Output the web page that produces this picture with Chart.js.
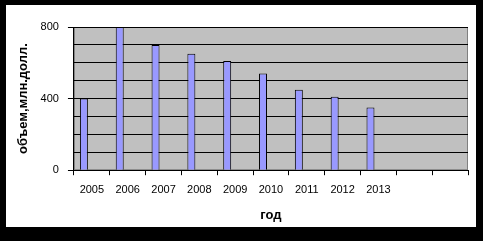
<!DOCTYPE html>
<html>
<head>
<meta charset="utf-8">
<script src="https://cdn.jsdelivr.net/npm/chart.js@4"></script>
<style>
  html, body { margin: 0; padding: 0; background: #000; }
  body { width: 483px; height: 241px; position: relative; overflow: hidden; }
  #box { position: absolute; left: 6px; top: 5px; width: 470px; height: 222px; background: #fff; }
</style>
</head>
<body>
<div id="box"><canvas id="chart" width="470" height="222"></canvas></div>
<script>
// data
const years = ["2005", "2006", "2007", "2008", "2009", "2010", "2011", "2012", "2013", "", ""];
const volume = [400, 800, 700, 650, 610, 540, 450, 410, 350, null, null];
const emptySeries = [null, null, null, null, null, null, null, null, null, null, null];
const yTicks = [0, 400, 800];

const FONT = "'Liberation Sans', Arial, sans-serif";

// grey plot area like the excel original
const plotBg = {
  id: "plotBg",
  beforeDraw(chart) {
    const { ctx, chartArea: a } = chart;
    ctx.save();
    ctx.fillStyle = "#c0c0c0";
    ctx.fillRect(a.left, a.top, a.right - a.left, a.bottom - a.top);
    ctx.strokeStyle = "#808080";
    ctx.lineWidth = 1;
    ctx.strokeRect(a.left + 0.5, a.top + 0.5, a.right - a.left - 1, a.bottom - a.top - 1);
    ctx.restore();
  }
};

const barStyle = { backgroundColor: "#9999ff", borderColor: "#000", borderWidth: 1 };

new Chart(document.getElementById("chart"), {
  type: "bar",
  data: {
    labels: years,
    datasets: [
      { label: "объем", data: volume, ...barStyle },
      { label: "s2", data: emptySeries, ...barStyle },
      { label: "s3", data: emptySeries, ...barStyle }
    ]
  },
  options: {
    responsive: false,
    animation: false,
    events: [],
    categoryPercentage: 0.667,
    barPercentage: 1.0,
    layout: { padding: { left: 5, right: 8, top: 22, bottom: 0 } },
    plugins: { legend: { display: false }, tooltip: { enabled: false } },
    scales: {
      x: {
        offset: true,
        grid: { offset: true, drawOnChartArea: false, color: "#000", tickLength: 5 },
        border: { color: "#000" },
        ticks: { color: "#000", font: { family: FONT, size: 11 }, maxRotation: 0, autoSkip: false, padding: 8 },
        title: { display: true, text: "год", color: "#000", font: { family: FONT, size: 13, weight: "bold" }, padding: { top: 3 } }
      },
      y: {
        min: 0,
        max: 800,
        ticks: {
          stepSize: 100,
          color: "#000",
          font: { family: FONT, size: 11 },
          padding: 9,
          callback: v => (yTicks.includes(v) ? v : "")
        },
        grid: {
          color: "#000",
          tickLength: 6,
          tickColor: c => (yTicks.includes(c.tick.value) ? "#000" : "rgba(0,0,0,0)")
        },
        border: { color: "#000" },
        title: { display: true, text: "объем,млн.долл.", color: "#000", font: { family: FONT, size: 13, weight: "bold" }, padding: { top: 5, bottom: 0 } }
      }
    }
  },
  plugins: [plotBg]
});
</script>
</body>
</html>
